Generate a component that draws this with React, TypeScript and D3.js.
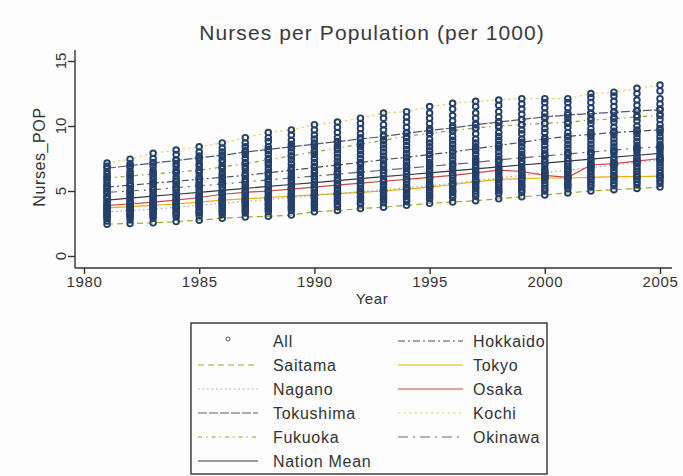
import React, { useEffect, useRef } from "react";
import * as d3 from "d3";

// years on the x axis
const years = [
  1981, 1982, 1983, 1984, 1985, 1986, 1987, 1988, 1989, 1990, 1991, 1992, 1993,
  1994, 1995, 1996, 1997, 1998, 1999, 2000, 2001, 2002, 2003, 2004, 2005,
];

// named prefectures (nurses per 1000 population)
const hokkaido = [5.3, 5.45, 5.6, 5.75, 5.9, 6.05, 6.2, 6.4, 6.6, 6.8, 7.0, 7.2, 7.4, 7.6, 7.8, 8.0, 8.25, 8.5, 8.75, 9.0, 9.2, 9.35, 9.5, 9.6, 9.7];
const saitama = [2.45, 2.5, 2.55, 2.65, 2.75, 2.9, 3.0, 3.05, 3.15, 3.4, 3.5, 3.65, 3.75, 3.9, 4.05, 4.15, 4.25, 4.4, 4.55, 4.7, 4.85, 5.0, 5.1, 5.2, 5.3];
const tokyo = [3.7, 3.8, 3.9, 4.0, 4.15, 4.3, 4.4, 4.5, 4.6, 4.7, 4.8, 4.9, 5.0, 5.15, 5.3, 5.5, 5.7, 5.9, 5.95, 6.0, 6.0, 6.05, 6.1, 6.1, 6.15];
const nagano = [3.4, 3.5, 3.6, 3.75, 3.9, 4.05, 4.2, 4.35, 4.5, 4.65, 4.8, 4.95, 5.1, 5.25, 5.4, 5.6, 5.8, 6.0, 6.2, 6.4, 6.6, 6.8, 7.0, 7.2, 7.4];
const osaka = [3.9, 4.0, 4.15, 4.3, 4.5, 4.75, 4.9, 5.0, 5.15, 5.3, 5.45, 5.6, 5.75, 5.9, 6.05, 6.2, 6.4, 6.6, 6.5, 6.2, 6.05, 7.0, 7.1, 7.3, 7.5];
const tokushima = [6.75, 6.95, 7.15, 7.35, 7.55, 7.75, 8.0, 8.2, 8.4, 8.6, 8.8, 9.0, 9.2, 9.45, 9.65, 9.85, 10.1, 10.3, 10.5, 10.7, 10.85, 10.95, 11.05, 11.15, 11.25];
const kochi = [7.15, 7.45, 7.9, 8.15, 8.4, 8.7, 9.1, 9.5, 9.7, 10.1, 10.3, 10.6, 11.0, 11.1, 11.5, 11.75, 11.9, 12.0, 12.1, 12.1, 12.1, 12.5, 12.6, 12.9, 13.15];
const fukuoka = [6.0, 6.15, 6.3, 6.45, 6.6, 6.85, 7.1, 7.4, 7.7, 8.0, 8.3, 8.6, 8.9, 9.2, 9.45, 9.65, 9.85, 10.0, 10.1, 10.2, 10.3, 10.45, 10.55, 10.7, 10.8];
const okinawa = [4.9, 5.0, 5.1, 5.25, 5.4, 5.55, 5.7, 5.85, 6.0, 6.15, 6.3, 6.45, 6.6, 6.75, 6.9, 7.05, 7.2, 7.4, 7.55, 7.7, 7.85, 8.0, 8.15, 8.3, 8.4];
const nationMean = [4.3, 4.45, 4.6, 4.75, 4.9, 5.05, 5.2, 5.35, 5.5, 5.65, 5.8, 5.95, 6.1, 6.25, 6.4, 6.55, 6.7, 6.85, 7.0, 7.15, 7.3, 7.45, 7.6, 7.75, 7.9];

// the remaining prefectures, one string per year
const otherPrefs = [
  "2.7 2.9 3.0 3.1 3.2 3.3 3.5 3.6 3.7 3.8 4.0 4.1 4.2 4.4 4.5 4.6 4.8 5.0 5.2 5.4 5.6 5.8 6.1 6.3 6.5 6.9",
  "2.8 3.0 3.1 3.2 3.3 3.4 3.6 3.7 3.8 4.0 4.1 4.2 4.4 4.5 4.7 4.8 5.0 5.2 5.4 5.6 5.8 6.0 6.3 6.5 6.8 7.1",
  "2.9 3.1 3.2 3.3 3.4 3.6 3.7 3.8 4.0 4.1 4.3 4.4 4.6 4.7 4.9 5.1 5.3 5.5 5.7 5.9 6.1 6.4 6.6 6.9 7.2 7.5",
  "3.0 3.2 3.3 3.4 3.6 3.7 3.8 4.0 4.1 4.3 4.4 4.6 4.7 4.9 5.1 5.3 5.5 5.7 5.9 6.1 6.4 6.6 6.9 7.1 7.4 7.8",
  "3.1 3.3 3.4 3.5 3.7 3.8 4.0 4.1 4.3 4.4 4.6 4.7 4.9 5.1 5.3 5.5 5.7 5.9 6.1 6.4 6.6 6.9 7.1 7.4 7.7 8.0",
  "3.2 3.4 3.5 3.7 3.8 4.0 4.1 4.3 4.4 4.6 4.8 4.9 5.1 5.3 5.5 5.7 5.9 6.2 6.4 6.7 6.9 7.2 7.4 7.7 8.0 8.3",
  "3.3 3.5 3.6 3.8 3.9 4.1 4.2 4.4 4.6 4.7 4.9 5.1 5.3 5.5 5.7 5.9 6.2 6.4 6.7 6.9 7.2 7.5 7.8 8.1 8.4 8.7",
  "3.4 3.6 3.7 3.9 4.0 4.2 4.4 4.5 4.7 4.9 5.1 5.3 5.5 5.7 5.9 6.2 6.4 6.7 7.0 7.2 7.5 7.8 8.1 8.4 8.8 9.1",
  "3.5 3.7 3.8 4.0 4.2 4.3 4.5 4.7 4.8 5.0 5.2 5.4 5.6 5.8 6.1 6.3 6.6 6.8 7.1 7.4 7.7 8.0 8.3 8.6 8.9 9.3",
  "3.7 3.9 4.0 4.2 4.4 4.5 4.7 4.9 5.1 5.3 5.5 5.7 5.9 6.1 6.4 6.6 6.9 7.2 7.5 7.8 8.1 8.4 8.7 9.0 9.3 9.7",
  "3.8 4.0 4.2 4.3 4.5 4.7 4.8 5.0 5.2 5.4 5.6 5.8 6.0 6.3 6.5 6.8 7.0 7.3 7.6 7.9 8.2 8.5 8.8 9.1 9.5 9.9",
  "4.0 4.1 4.3 4.5 4.6 4.8 5.0 5.2 5.4 5.6 5.8 6.0 6.2 6.5 6.7 7.0 7.2 7.5 7.8 8.1 8.4 8.7 9.1 9.4 9.8 10.2",
  "4.1 4.3 4.4 4.6 4.8 5.0 5.1 5.3 5.5 5.7 5.9 6.2 6.4 6.6 6.9 7.1 7.4 7.7 8.0 8.3 8.6 8.9 9.3 9.7 10.1 10.6",
  "4.2 4.4 4.6 4.7 4.9 5.1 5.3 5.5 5.7 5.9 6.1 6.3 6.5 6.8 7.0 7.3 7.6 7.9 8.2 8.5 8.8 9.1 9.5 9.9 10.3 10.7",
  "4.4 4.6 4.7 4.9 5.1 5.3 5.5 5.7 5.9 6.1 6.3 6.5 6.7 7.0 7.2 7.5 7.8 8.1 8.4 8.7 9.0 9.4 9.8 10.2 10.6 11.0",
  "4.5 4.7 4.9 5.0 5.2 5.4 5.6 5.8 6.0 6.2 6.4 6.7 6.9 7.1 7.4 7.7 8.0 8.3 8.6 8.9 9.2 9.6 10.0 10.4 10.8 11.3",
  "4.6 4.8 5.0 5.2 5.3 5.5 5.7 5.9 6.1 6.3 6.6 6.8 7.0 7.3 7.5 7.8 8.1 8.4 8.7 9.0 9.4 9.8 10.2 10.6 11.0 11.5",
  "4.8 5.0 5.1 5.3 5.5 5.7 5.9 6.1 6.3 6.5 6.7 6.9 7.2 7.4 7.7 8.0 8.3 8.6 8.9 9.2 9.5 9.9 10.3 10.7 11.1 11.6",
  "4.9 5.1 5.3 5.4 5.6 5.8 6.0 6.2 6.4 6.6 6.8 7.1 7.3 7.6 7.8 8.1 8.4 8.7 9.0 9.4 9.7 10.1 10.5 10.9 11.3 11.7",
  "5.0 5.2 5.4 5.6 5.8 6.0 6.1 6.3 6.5 6.7 7.0 7.2 7.4 7.7 7.9 8.2 8.5 8.8 9.1 9.5 9.8 10.2 10.6 11.0 11.4 11.8",
  "5.2 5.4 5.5 5.7 5.9 6.1 6.3 6.5 6.7 6.9 7.1 7.3 7.5 7.8 8.0 8.3 8.6 8.9 9.2 9.5 9.9 10.2 10.6 11.0 11.4 11.8",
  "5.3 5.5 5.7 5.9 6.1 6.3 6.5 6.7 6.9 7.1 7.3 7.5 7.8 8.0 8.3 8.6 8.9 9.2 9.5 9.8 10.2 10.6 11.0 11.4 11.8 12.2",
  "5.4 5.6 5.8 6.0 6.2 6.4 6.6 6.8 7.0 7.2 7.4 7.6 7.9 8.1 8.4 8.7 9.0 9.3 9.6 9.9 10.3 10.7 11.1 11.5 11.9 12.3",
  "5.5 5.7 5.9 6.1 6.3 6.5 6.7 6.9 7.1 7.3 7.5 7.7 8.0 8.2 8.5 8.8 9.1 9.4 9.7 10.0 10.4 10.8 11.2 11.6 12.0 12.5",
  "5.6 5.8 6.0 6.2 6.4 6.6 6.8 7.0 7.2 7.4 7.6 7.8 8.1 8.3 8.6 8.9 9.2 9.5 9.8 10.1 10.5 10.9 11.3 11.7 12.1 12.7",
];

const xTicks = [1980, 1985, 1990, 1995, 2000, 2005];
const yTicks = [0, 5, 10, 15];

// legend order (Stata fills rows, two columns)
const series = [
  { name: "Hokkaido", values: hokkaido, color: "#505050", dash: "7 3 2 3" },
  { name: "Saitama", values: saitama, color: "#9aab2c", dash: "6 4" },
  { name: "Tokyo", values: tokyo, color: "#e9b300", dash: "" },
  { name: "Nagano", values: nagano, color: "#a8a8a8", dash: "1.5 3" },
  { name: "Osaka", values: osaka, color: "#d2473f", dash: "" },
  { name: "Tokushima", values: tokushima, color: "#5a5a6a", dash: "9 2" },
  { name: "Kochi", values: kochi, color: "#e3d36a", dash: "2.5 3" },
  { name: "Fukuoka", values: fukuoka, color: "#a59a2a", dash: "4 4 1.5 4" },
  { name: "Okinawa", values: okinawa, color: "#6a6a6a", dash: "10 5 2 5" },
  { name: "Nation Mean", values: nationMean, color: "#3a3a3a", dash: "" },
];

const navy = "#24406a";
const font = "'Liberation Sans', Arial, sans-serif";

export default function App() {
  const ref = useRef<SVGSVGElement>(null);

  useEffect(() => {
    const svg = d3.select(ref.current);
    svg.selectAll("*").remove();

    const x = d3.scaleLinear().domain([1980, 2005]).range([84, 660]);
    const y = d3.scaleLinear().domain([0, 15]).range([256, 61]);

    svg.append("rect").attr("width", 683).attr("height", 476).attr("fill", "#fdfdfd");

    // title
    svg.append("text")
      .attr("x", 372).attr("y", 40)
      .attr("text-anchor", "middle")
      .attr("font-family", font).attr("font-size", 21)
      .attr("letter-spacing", 1.1)
      .attr("fill", "#3a3a3a")
      .text("Nurses per Population (per 1000)");

    // lines (under the markers, as the columns hide them)
    const line = d3.line<number>()
      .x((_, i) => x(years[i]))
      .y((d) => y(d));
    series.forEach((s) => {
      svg.append("path")
        .attr("d", line(s.values))
        .attr("fill", "none")
        .attr("stroke", s.color)
        .attr("stroke-width", 1.2)
        .attr("stroke-dasharray", s.dash || null);
    });

    // all prefectures, hollow circles
    const named = [hokkaido, saitama, tokyo, nagano, osaka, tokushima, kochi, fukuoka, okinawa];
    const points: { yr: number; v: number }[] = [];
    years.forEach((yr, i) => {
      otherPrefs[i].split(" ").forEach((s) => points.push({ yr, v: +s }));
      named.forEach((arr) => points.push({ yr, v: arr[i] }));
    });
    svg.append("g")
      .selectAll("circle")
      .data(points)
      .join("circle")
      .attr("cx", (d) => x(d.yr))
      .attr("cy", (d) => y(d.v))
      .attr("r", 2.8)
      .attr("fill", "none")
      .attr("stroke", navy)
      .attr("stroke-width", 1.9);

    // axes
    const yAxis = svg.append("g").attr("transform", "translate(75,0)")
      .call(d3.axisLeft(y).tickValues(yTicks).tickSize(7).tickFormat(() => ""));
    yAxis.select(".domain").attr("d", "M0,50V268");
    yTicks.forEach((t) => {
      svg.append("text")
        .attr("transform", `translate(66,${y(t)}) rotate(-90)`)
        .attr("text-anchor", "middle")
        .attr("font-family", font).attr("font-size", 15)
        .attr("fill", "#333")
        .text(t);
    });

    const xAxis = svg.append("g").attr("transform", "translate(0,268)")
      .call(d3.axisBottom(x).tickValues(xTicks).tickFormat(d3.format("d")).tickSize(6).tickPadding(2));
    xAxis.select(".domain").attr("d", "M75,0H672");
    xAxis.selectAll("text")
      .attr("font-family", font).attr("font-size", 15)
      .attr("letter-spacing", 0.6)
      .attr("fill", "#333");

    svg.selectAll(".domain, .tick line")
      .attr("stroke", "#333").attr("stroke-width", 1.4);

    // axis titles
    svg.append("text")
      .attr("x", 372).attr("y", 304)
      .attr("text-anchor", "middle")
      .attr("font-family", font).attr("font-size", 15)
      .attr("letter-spacing", 0.6)
      .attr("fill", "#333")
      .text("Year");
    svg.append("text")
      .attr("transform", "translate(45,157) rotate(-90)")
      .attr("text-anchor", "middle")
      .attr("font-family", font).attr("font-size", 16)
      .attr("letter-spacing", 0.6)
      .attr("fill", "#333")
      .text("Nurses_POP");

    // legend
    const lg = svg.append("g");
    lg.append("rect")
      .attr("x", 191).attr("y", 323).attr("width", 356).attr("height", 151)
      .attr("fill", "#fdfdfd").attr("stroke", "#333").attr("stroke-width", 1.4);

    const items = [{ name: "All", color: navy, dash: "", marker: true }, ...series.map((s) => ({ ...s, marker: false }))];
    items.forEach((it, i) => {
      const row = Math.floor(i / 2);
      const col = i % 2;
      const cy = 341 + row * 24;
      const k0 = col === 0 ? 198 : 398;
      const k1 = col === 0 ? 258 : 463;
      const tx = col === 0 ? 273 : 473;
      if (it.marker) {
        lg.append("circle")
          .attr("cx", (k0 + k1) / 2).attr("cy", cy - 2).attr("r", 2)
          .attr("fill", "none").attr("stroke", "#444").attr("stroke-width", 0.9);
      } else {
        lg.append("line")
          .attr("x1", k0).attr("x2", k1).attr("y1", cy).attr("y2", cy)
          .attr("stroke", it.color).attr("stroke-width", 1.2)
          .attr("stroke-dasharray", it.dash || null);
      }
      lg.append("text")
        .attr("x", tx).attr("y", cy + 6)
        .attr("font-family", font).attr("font-size", 16)
        .attr("letter-spacing", 0.7)
        .attr("fill", "#333")
        .text(it.name);
    });
  }, []);

  return (
    <svg
      ref={ref}
      width={683}
      height={476}
      style={{ position: "absolute", left: 0, top: 0 }}
    />
  );
}
